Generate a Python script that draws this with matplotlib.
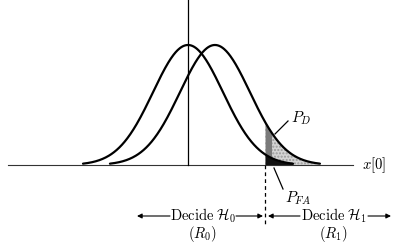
import numpy as np
import matplotlib.pyplot as plt

plt.rcParams['mathtext.fontset'] = 'cm'
plt.rcParams['font.family'] = ['DejaVu Serif']

# two gaussian pdfs (H0 and H1) and the decision threshold
mu0 = 0.0
mu1 = 0.77
sigma = 1.0
gamma = 2.2

# pixel layout of the scanned figure -> data units
X0, XS = 188, 35.0          # px of x=0, px per unit
Y0, YS = 165, 120 / 0.3989  # px of baseline, px per pdf unit


def px(x, y):
    return (x - X0) / XS, (Y0 - y) / YS


def pdf(x, m):
    return np.exp(-0.5 * ((x - m) / sigma) ** 2) / (sigma * np.sqrt(2 * np.pi))


fig = plt.figure(figsize=(3.95, 2.48), dpi=100)
ax = fig.add_axes([0, 0, 1, 1])
ax.set_xlim(px(0, 0)[0], px(395, 0)[0])
ax.set_ylim(px(0, 248)[1], px(0, 0)[1])
ax.axis('off')

x0 = np.linspace(mu0 - 3 * sigma, mu0 + 3 * sigma, 400)
x1 = np.linspace(mu1 - 3 * sigma, mu1 + 3 * sigma, 400)
p0 = pdf(x0, mu0)
p1 = pdf(x1, mu1)

# shaded areas right of the threshold
m1 = x1 >= gamma
ax.fill_between(x1[m1], 0, p1[m1], color='#d4d4d4', lw=0, hatch='.....', edgecolor='#9a9a9a')
band = m1 & (x1 <= gamma + 0.2)
ax.fill_between(x1[band], 0, p1[band], color='#7a7a7a', lw=0)
m0 = x0 >= gamma
ax.fill_between(x0[m0], 0, p0[m0], color='#111111', lw=0)

ax.plot(x0, p0, color='black', lw=1.6, solid_capstyle='round')
ax.plot(x1, p1, color='black', lw=1.6, solid_capstyle='round')

# axes lines
xa, _ = px(8, 165)
xb, _ = px(353, 165)
ax.plot([xa, xb], [0, 0], color='#333333', lw=0.8)
ax.plot([0, 0], [0, px(0, 0)[1]], color='black', lw=0.9)
ax.text(*px(362, 165), r'$x[0]$', fontsize=10.5, ha='left', va='center')

# threshold dashed line
ax.plot([gamma, gamma], [0, px(0, 224)[1]], color='black', lw=0.9, ls=(0, (3, 2.5)))

# labels P_D and P_FA
ax.plot(*zip(px(275, 134), px(288, 121)), color='black', lw=0.9)
ax.text(*px(291, 118), r'$P_D$', fontsize=11, ha='left', va='center')
ax.plot(*zip(px(274, 168), px(283, 189)), color='black', lw=0.9)
ax.text(*px(285, 198), r'$P_{FA}$', fontsize=11, ha='left', va='center')

# decision regions
aprops = dict(arrowstyle='-|>', color='black', lw=0.8, mutation_scale=7, shrinkA=0, shrinkB=0)
yy = 216
ax.annotate('', xy=px(137, yy), xytext=px(170, yy), arrowprops=aprops)
ax.annotate('', xy=px(263, yy), xytext=px(236, yy), arrowprops=aprops)
ax.annotate('', xy=px(268, yy), xytext=px(300, yy), arrowprops=aprops)
ax.annotate('', xy=px(391, yy), xytext=px(368, yy), arrowprops=aprops)
ax.text(*px(203, yy), r'$\mathrm{Decide}\ \mathcal{H}_0$', fontsize=10.5, ha='center', va='center')
ax.text(*px(203, 234), r'$(R_0)$', fontsize=10.5, ha='center', va='center')
ax.text(*px(334, yy), r'$\mathrm{Decide}\ \mathcal{H}_1$', fontsize=10.5, ha='center', va='center')
ax.text(*px(334, 234), r'$(R_1)$', fontsize=10.5, ha='center', va='center')

fig.savefig('out.png', dpi=100, facecolor='white')
